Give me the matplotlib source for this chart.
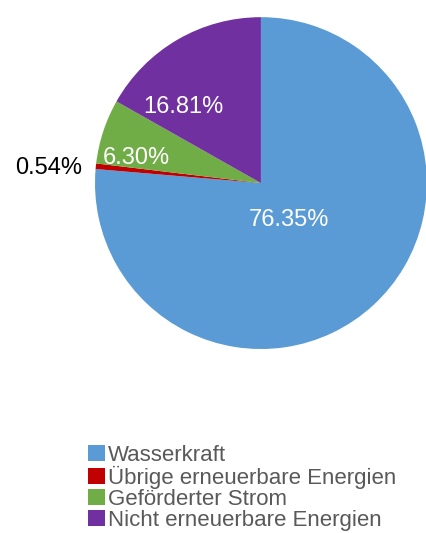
import matplotlib.pyplot as plt
from matplotlib.patches import Patch

plt.rcParams['font.family'] = ['Liberation Sans', 'DejaVu Sans']

# data
labels = ["Wasserkraft", "Übrige erneuerbare Energien", "Geförderter Strom", "Nicht erneuerbare Energien"]
shares = [76.35, 0.54, 6.30, 16.81]
colors = ["#5B9BD5", "#C00000", "#70AD47", "#7030A0"]
# label placement (data coords, radius = 1)
label_pos = [(0.17, -0.22), (-1.28, 0.09), (-0.75, 0.15), (-0.47, 0.458)]
label_col = ["white", "black", "white", "white"]

fig = plt.figure(figsize=(4.26, 5.33), dpi=100)
ax = fig.add_axes([0.223, 0.345, 0.779, 0.623])
wedges, _ = ax.pie(shares, colors=colors, startangle=90, counterclock=False, radius=1)
ax.set_xlim(-1, 1)
ax.set_ylim(-1, 1)
ax.set_aspect('equal')
ax.axis('off')

for v, (x, y), c in zip(shares, label_pos, label_col):
    ax.text(x, y, "%.2f%%" % v, color=c, fontsize=17, ha='center', va='center', clip_on=False)

handles = [Patch(facecolor=c, edgecolor='none') for c in colors]
leg = fig.legend(handles, labels, loc='upper left', bbox_to_anchor=(0.207, 0.166),
                 frameon=False, fontsize=16, handlelength=0.75, handleheight=0.75,
                 handletextpad=0.15, labelspacing=0.0, borderpad=0, borderaxespad=0)
for t in leg.get_texts():
    t.set_color('#595959')

fig.savefig("out.png", dpi=100)
